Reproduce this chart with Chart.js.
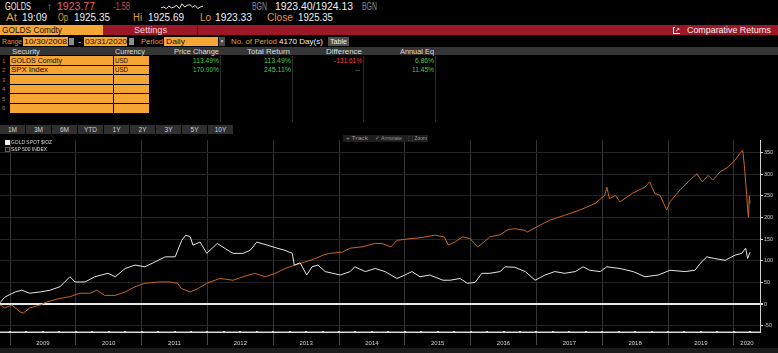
<!DOCTYPE html>
<html><head><meta charset="utf-8">
<script src="https://cdn.jsdelivr.net/npm/chart.js@4.4.1/dist/chart.umd.min.js"></script>
<style>
html,body{margin:0;padding:0;background:#000;}
body{width:778px;height:353px;overflow:hidden;position:relative;font-family:"Liberation Sans",Arial,sans-serif;}
.t{position:absolute;white-space:nowrap;transform-origin:0 0;line-height:1;z-index:2;}
.b{position:absolute;z-index:1;}
.r1{top:1.6px;font-size:10px}
.r2{top:13px;font-size:10px}
.r3{top:26.4px;font-size:8.5px}
.r4{top:38.3px;font-size:8px}
.hd{top:48px;font-size:7.5px;color:#dcdcdc}
.q1{top:56.8px;font-size:7.5px}
.q2{top:66.2px;font-size:7.5px}
.o{color:#e39a3b}
.w{color:#f0f0f0}
.k{color:#111}
.g{color:#4fc44f}
.rd{color:#e0404a}
.gr{color:#8a8a8a}
.cell{position:absolute;background:#f5a534;z-index:1;}
.vs{position:absolute;top:56px;width:1px;height:66px;background:#2a2a2a;}
#btns{position:absolute;left:0;top:125px;width:234px;height:9px;display:flex;}
#btns div{width:25px;margin-right:1px;background:#2f2f2f;color:#cfcfcf;font-size:6.5px;line-height:9px;text-align:center;}
#chartBox{position:absolute;left:0;top:136px;width:778px;height:212px;}
</style></head><body>

<!-- row 1 -->
<span class="t r1 w" style="left:5px" data-w="26">GOLDS</span>
<span class="t r1" style="left:47px;color:#3fcf3f" data-w="5">↑</span>
<span class="t r1" style="left:57px;color:#e4646c" data-w="38">1923.77</span>
<span class="t r1" style="left:113px;color:#d9474f" data-w="17">-1.58</span>
<canvas id="spark" width="44" height="10" style="position:absolute;left:160px;top:2px;width:44px;height:10px"></canvas>
<span class="t r1 gr" style="left:252px" data-w="15">BGN</span>
<span class="t r1 w" style="left:275px" data-w="78">1923.40/1924.13</span>
<span class="t r1 gr" style="left:362px" data-w="15">BGN</span>

<!-- row 2 -->
<span class="t r2 o" style="left:6px" data-w="11">At</span>
<span class="t r2 w" style="left:22px" data-w="25">19:09</span>
<span class="t r2 o" style="left:58px" data-w="10">Op</span>
<span class="t r2 w" style="left:74px" data-w="36">1925.35</span>
<span class="t r2 o" style="left:133px" data-w="9">Hi</span>
<span class="t r2 w" style="left:148px" data-w="36">1925.69</span>
<span class="t r2 o" style="left:200px" data-w="11">Lo</span>
<span class="t r2 w" style="left:215px" data-w="37">1923.33</span>
<span class="t r2 o" style="left:267px" data-w="26">Close</span>
<span class="t r2 w" style="left:298px" data-w="35">1925.35</span>

<!-- row 3 -->
<div class="b" style="left:0;top:25px;width:103px;height:10px;background:#f6a634"></div>
<div class="b" style="left:103px;top:25px;width:675px;height:10px;background:#9c1826"></div>
<div class="b" style="left:197px;top:25px;width:1px;height:10px;background:#6a0f18"></div>
<span class="t r3 k" style="left:2px" data-w="60">GOLDS Comdty</span>
<span class="t r3" style="left:134px;color:#f3d3d6" data-w="33">Settings</span>
<div class="b" style="left:673px;top:27px;width:5px;height:5px;border:1px solid #fff;z-index:2"></div>
<span class="t" style="left:675px;top:25.5px;font-size:7px;color:#fff;background:#9c1826" data-w="5">↗</span>
<span class="t r3 w" style="left:687px" data-w="84">Comparative Returns</span>

<!-- row 4 -->
<span class="t r4 o" style="left:2px" data-w="20">Range</span>
<div class="b" style="left:23px;top:37px;width:45px;height:9px;background:#f6a634"></div>
<span class="t r4 k" style="left:24px" data-w="43">10/30/2008</span>
<div class="b" style="left:69px;top:38px;width:5px;height:7px;background:#8c8c8c"></div>
<span class="t r4 w" style="left:78px" data-w="3">-</span>
<div class="b" style="left:84px;top:37px;width:43px;height:9px;background:#f6a634"></div>
<span class="t r4 k" style="left:85px" data-w="42">03/31/2020</span>
<div class="b" style="left:129px;top:38px;width:5px;height:7px;background:#8c8c8c"></div>
<span class="t r4 o" style="left:141px" data-w="22">Period</span>
<div class="b" style="left:164px;top:37px;width:54px;height:9px;background:#f6a634"></div>
<span class="t r4 k" style="left:166px" data-w="19">Daily</span>
<div class="b" style="left:219px;top:37px;width:6px;height:9px;background:#4a4a4a"></div>
<span class="t" style="left:220px;top:39px;font-size:5px;color:#ddd" data-w="4">▼</span>
<span class="t r4 o" style="left:231px" data-w="46">No. of Period</span>
<span class="t r4 w" style="left:279px" data-w="44">4170 Day(s)</span>
<div class="b" style="left:328px;top:37px;width:21px;height:9px;background:#4e4e4e"></div>
<span class="t r4" style="left:330px;color:#eee" data-w="17">Table</span>

<!-- header row -->
<div class="b" style="left:0;top:47px;width:778px;height:8px;background:#353535"></div>
<span class="t hd" style="left:12px" data-w="28">Security</span>
<span class="t hd" style="left:115px" data-w="30">Currency</span>
<span class="t hd" style="left:174px" data-w="45">Price Change</span>
<span class="t hd" style="left:247px" data-w="43">Total Return</span>
<span class="t hd" style="left:326px" data-w="36">Difference</span>
<span class="t hd" style="left:400px" data-w="34">Annual Eq</span>

<!-- table cells -->
<div class="cell" style="left:10px;top:56px;width:103px;height:9px"></div>
<div class="cell" style="left:114px;top:56px;width:35px;height:9px"></div>
<div class="cell" style="left:10px;top:66px;width:103px;height:8px"></div>
<div class="cell" style="left:114px;top:66px;width:35px;height:8px"></div>
<div class="cell" style="left:10px;top:75px;width:103px;height:9px"></div>
<div class="cell" style="left:114px;top:75px;width:35px;height:9px"></div>
<div class="cell" style="left:10px;top:85px;width:103px;height:8px"></div>
<div class="cell" style="left:114px;top:85px;width:35px;height:8px"></div>
<div class="cell" style="left:10px;top:94px;width:103px;height:9px"></div>
<div class="cell" style="left:114px;top:94px;width:35px;height:9px"></div>
<div class="cell" style="left:10px;top:104px;width:103px;height:9px"></div>
<div class="cell" style="left:114px;top:104px;width:35px;height:9px"></div>
<span class="t" style="left:2px;top:57.5px;font-size:6px;color:#b07a30">1</span>
<span class="t" style="left:2px;top:67px;font-size:6px;color:#b07a30">2</span>
<span class="t" style="left:2px;top:76.5px;font-size:6px;color:#b07a30">3</span>
<span class="t" style="left:2px;top:86px;font-size:6px;color:#b07a30">4</span>
<span class="t" style="left:2px;top:95.5px;font-size:6px;color:#b07a30">5</span>
<span class="t" style="left:2px;top:105px;font-size:6px;color:#b07a30">6</span>
<div class="vs" style="left:220px"></div>
<div class="vs" style="left:292px"></div>
<div class="vs" style="left:363px"></div>
<div class="vs" style="left:435px"></div>

<span class="t q1 k" style="left:11px" data-w="51">GOLDS Comdty</span>
<span class="t q1 k" style="left:115px" data-w="13">USD</span>
<span class="t q1 g" style="left:193px" data-w="26">113.49%</span>
<span class="t q1 g" style="left:264px" data-w="27">113.49%</span>
<span class="t q1 rd" style="left:334px" data-w="28">-131.61%</span>
<span class="t q1 g" style="left:415px" data-w="19">6.86%</span>

<span class="t q2 k" style="left:11px" data-w="37">SPX Index</span>
<span class="t q2 k" style="left:115px" data-w="13">USD</span>
<span class="t q2 g" style="left:193px" data-w="26">170.90%</span>
<span class="t q2 g" style="left:264px" data-w="27">245.11%</span>
<span class="t q2 gr" style="left:355px" data-w="5">--</span>
<span class="t q2 g" style="left:412px" data-w="22">11.45%</span>

<!-- period buttons -->
<div id="btns"><div>1M</div><div>3M</div><div>6M</div><div>YTD</div><div>1Y</div><div>2Y</div><div>3Y</div><div>5Y</div><div>10Y</div></div>

<!-- chart -->
<div id="chartBox"><canvas id="c" width="778" height="212"></canvas></div>
<div class="b" style="left:0;top:348px;width:778px;height:5px;background:#1c1c1c"></div>

<!-- chart toolbar + legend -->
<div class="b" style="left:343px;top:135px;width:85px;height:7px;background:#1e1e1e;z-index:2"></div>
<span class="t" style="left:346px;top:136px;font-size:5.5px;color:#9a9a9a;z-index:3" data-w="22">+ Track</span>
<span class="t" style="left:375px;top:136px;font-size:5.5px;color:#9a9a9a;z-index:3" data-w="27">✓ Annotate</span>
<span class="t" style="left:408px;top:136px;font-size:5.5px;color:#9a9a9a;z-index:3" data-w="19">⬚ Zoom</span>

<div class="b" style="left:5px;top:140px;width:5px;height:5px;background:#f2f2f2;z-index:3"></div>
<span class="t" style="left:11px;top:140px;font-size:5.6px;color:#dcdcdc;z-index:3" data-w="41">GOLD SPOT $/OZ</span>
<div class="b" style="left:5px;top:147px;width:3px;height:3px;border:1px solid #8a5020;background:#1a0d04;z-index:3"></div>
<span class="t" style="left:11px;top:146.5px;font-size:5.6px;color:#dcdcdc;z-index:3" data-w="36">S&amp;P 500 INDEX</span>

<script>
// ---- data (decimal years, % change since 10/30/2008) ----
const goldYears = [2008.83,2008.92,2009.08,2009.18,2009.30,2009.46,2009.61,2009.76,2009.91,2009.99,
 2010.14,2010.29,2010.49,2010.60,2010.75,2010.90,2011.05,2011.20,2011.36,2011.51,
 2011.61,2011.67,2011.74,2011.78,2011.89,2011.99,2012.15,2012.27,2012.39,2012.54,
 2012.65,2012.75,2012.91,2013.06,2013.18,2013.29,2013.32,2013.41,2013.51,2013.59,
 2013.68,2013.79,2014.02,2014.17,2014.24,2014.40,2014.55,2014.70,2014.88,2015.00,
 2015.11,2015.23,2015.38,2015.58,2015.69,2015.84,2015.95,2016.07,2016.17,2016.29,
 2016.45,2016.52,2016.67,2016.83,2016.98,2017.13,2017.28,2017.43,2017.59,2017.71,
 2017.81,2017.97,2018.07,2018.27,2018.47,2018.65,2018.85,2019.03,2019.26,2019.41,
 2019.49,2019.59,2019.71,2019.87,2020.02,2020.12,2020.18,2020.21,2020.247];
const goldValues = [0,16,28,32,25,28,32,40,63,51,
 51,63,71,63,82,90,86,97,109,109,
 147,159,155,136,143,117,140,128,117,117,
 124,143,136,129,124,117,90,95,67,86,
 90,75,67,75,86,75,82,75,59,67,
 75,63,67,55,55,59,48,50,71,71,
 75,86,85,75,55,67,75,71,75,86,
 78,75,86,82,75,63,67,78,75,78,
 94,109,105,101,113,117,129,105,120];

const spxYears = [2008.83,2008.92,2009.03,2009.15,2009.20,2009.30,2009.46,2009.56,2009.76,2009.91,
 2010.06,2010.22,2010.32,2010.44,2010.60,2010.75,2010.90,2011.05,2011.28,2011.43,
 2011.55,2011.60,2011.74,2011.86,2011.99,2012.19,2012.39,2012.54,2012.72,2012.88,
 2013.03,2013.18,2013.33,2013.48,2013.64,2013.76,2013.86,2014.05,2014.17,2014.35,
 2014.55,2014.65,2014.79,2014.88,2015.08,2015.23,2015.46,2015.60,2015.66,2015.76,
 2015.88,2015.99,2016.11,2016.20,2016.29,2016.45,2016.57,2016.67,2016.83,2016.86,
 2017.05,2017.21,2017.43,2017.66,2017.89,2018.04,2018.07,2018.11,2018.20,2018.27,
 2018.45,2018.65,2018.72,2018.80,2018.88,2018.98,2019.03,2019.18,2019.33,2019.44,
 2019.52,2019.61,2019.68,2019.79,2019.91,2020.02,2020.09,2020.135,2020.16,2020.19,
 2020.215,2020.224,2020.235,2020.247];
const spxValues = [0,-9,-2,-18,-21,-9,-2,5,13,17,
 25,25,32,20,20,28,40,48,51,51,
 48,36,28,36,48,59,55,63,71,63,
 71,82,90,97,105,113,117,120,129,132,
 140,140,132,147,151,153,159,155,136,143,
 155,151,132,143,155,160,172,174,170,166,
 182,194,205,217,232,251,270,243,251,236,
 255,270,282,255,251,217,236,263,286,301,
 282,297,286,305,316,332,347,355,320,263,
 210,200,250,232];

const yearLabels = ['2009','2010','2011','2012','2013','2014','2015','2016','2017','2018','2019','2020'];
const valueTicks = [350,300,250,200,150,100,50,0,-50];
const sparkValues = [4,5,3,6,4,5,7,3,9,5,7,8,5,7,3,5,6];

// ---- fit header text widths ----
document.querySelectorAll('[data-w]').forEach(el => {
  const w = el.getBoundingClientRect().width;
  if (w > 0) el.style.transform = 'scaleX(' + (parseFloat(el.dataset.w) / w) + ')';
});

// ---- sparkline ----
new Chart(document.getElementById('spark'), {
  type: 'line',
  data: { labels: sparkValues.map((v, i) => i),
          datasets: [{ data: sparkValues, borderColor: '#e6e6e6', borderWidth: 1, pointRadius: 0, tension: 0 }] },
  options: { responsive: false, animation: false, events: [],
    layout: { padding: 1 },
    plugins: { legend: { display: false }, tooltip: { enabled: false } },
    scales: { x: { display: false }, y: { display: false } } }
});

// ---- main chart ----
const gold = goldYears.map((x, i) => ({ x, y: goldValues[i] }));
const spx = spxYears.map((x, i) => ({ x, y: spxValues[i] }));
const firstYear = parseInt(yearLabels[0], 10);
const xMin = 2008.848, xMax = 2020.398;

const xTickValues = [];
yearLabels.forEach((lab, i) => {
  const y0 = firstYear + i;
  xTickValues.push(y0);
  xTickValues.push(Math.min(y0 + 0.5, 2020.2));
});

const quarterMarks = {
  id: 'quarterMarks',
  afterDraw(chart) {
    const xs = chart.scales.x, ca = chart.chartArea, c = chart.ctx;
    c.save();
    c.fillStyle = '#d8d8d8';
    c.fillRect(ca.left, ca.bottom - 0.5, ca.right - ca.left, 1);
    for (let y = firstYear - 1; y <= firstYear + yearLabels.length; y++) {
      for (const q of [0, 0.25, 0.5, 0.75]) {
        const v = y + q;
        if (v < xMin || v > xMax) continue;
        const px = xs.getPixelForValue(v);
        c.fillRect(Math.round(px) - 1, ca.bottom - 1, 2, 2);
      }
    }
    c.restore();
  }
};

new Chart(document.getElementById('c'), {
  type: 'line',
  data: { datasets: [
    { label: 'GOLD SPOT $/OZ', data: gold, borderColor: '#e4e4e4', borderWidth: 1, pointRadius: 0, tension: 0 },
    { label: 'S&P 500 INDEX', data: spx, borderColor: '#c9651f', borderWidth: 1, pointRadius: 0, tension: 0 }
  ]},
  options: {
    responsive: false, animation: false, events: [],
    layout: { padding: { top: 4, left: 0, right: 0, bottom: 0 } },
    plugins: { legend: { display: false }, tooltip: { enabled: false } },
    scales: {
      x: {
        type: 'linear', min: xMin, max: xMax,
        afterBuildTicks(s) { s.ticks = xTickValues.map(v => ({ value: v })); },
        afterFit(s) { s.height = 16; },
        grid: {
          color: c => Number.isInteger(c.tick && c.tick.value) ? '#333333' : 'rgba(0,0,0,0)',
          tickColor: c => Number.isInteger(c.tick && c.tick.value) ? '#4a4a4a' : 'rgba(0,0,0,0)',
          tickLength: 13, lineWidth: 1
        },
        border: { display: true, color: '#d8d8d8', width: 1 },
        ticks: {
          autoSkip: false, maxRotation: 0, minRotation: 0, padding: -5,
          color: '#d2d2d2', font: { size: 6, family: 'Liberation Sans' },
          callback: v => Number.isInteger(v) ? '' : yearLabels[Math.floor(v) - firstYear]
        }
      },
      y: {
        position: 'right', min: -64.5, max: 378,
        afterBuildTicks(s) { s.ticks = valueTicks.map(v => ({ value: v })); },
        afterFit(s) { s.width = 18; },
        grid: {
          color: c => (c.tick && c.tick.value === 0) ? '#e8e8e8' : '#232323',
          lineWidth: c => (c.tick && c.tick.value === 0) ? 2 : 1,
          tickColor: '#e0e0e0', tickLength: 3
        },
        border: { display: true, color: '#d0d0d0', width: 1 },
        ticks: { color: '#cfcfcf', font: { size: 5.5, family: 'Liberation Sans' }, padding: 1 }
      }
    }
  },
  plugins: [quarterMarks]
});
</script>
</body></html>
